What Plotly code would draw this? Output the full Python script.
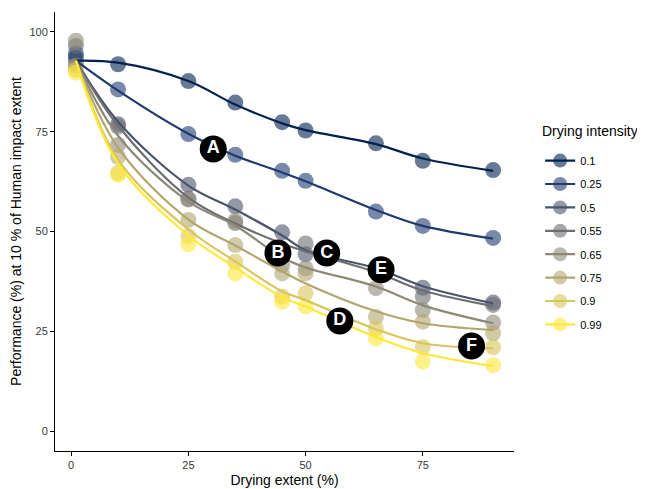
import plotly.graph_objects as go
import plotly.colors as pc

# ---- data ----
drying_extent = [1, 10, 25, 35, 45, 50, 65, 75, 90]
intensity_labels = ["0.1", "0.25", "0.5", "0.55", "0.65", "0.75", "0.9", "0.99"]

points_01 = [93.5, 91.9, 87.7, 82.3, 77.4, 75.3, 72.1, 67.7, 65.4]
points_025 = [94.6, 85.6, 74.4, 69.2, 65.2, 62.7, 55.0, 51.4, 48.4]
points_05 = [92.0, 76.9, 61.7, 56.3, 49.8, 44.3, 40.8, 35.9, 32.2]
points_055 = [96.5, 76.3, 58.2, 52.1, 45.5, 47.0, 40.0, 33.7, 31.6]
points_065 = [97.8, 71.7, 58.0, 52.7, 41.6, 40.8, 35.8, 30.3, 27.2]
points_075 = [91.5, 68.7, 52.9, 46.6, 39.5, 39.5, 28.6, 27.4, 24.5]
points_09 = [90.5, 64.7, 48.9, 42.4, 33.7, 34.5, 25.7, 21.0, 21.0]
points_099 = [89.8, 64.2, 46.8, 39.5, 32.4, 31.2, 23.2, 17.4, 16.5]

fit_01 = [92.8, 92.3, 87.7, 81.8, 77.1, 75.4, 71.9, 68.3, 65.2]
fit_025 = [92.8, 85.3, 74.5, 69.0, 64.8, 62.6, 55.4, 51.4, 48.2]
fit_05 = [92.8, 77.5, 61.5, 55.5, 49.0, 45.3, 40.8, 36.3, 32.0]
fit_055 = [92.8, 76.5, 58.5, 52.0, 47.0, 45.0, 39.8, 35.2, 31.3]
fit_065 = [92.8, 74.0, 57.5, 51.5, 43.5, 41.0, 36.2, 31.5, 27.0]
fit_075 = [92.8, 71.0, 53.0, 46.5, 40.0, 37.0, 30.0, 27.0, 25.3]
fit_09 = [92.8, 68.0, 50.5, 42.5, 35.0, 32.8, 25.5, 22.0, 20.7]
fit_099 = [92.8, 67.0, 49.0, 41.0, 33.5, 31.2, 23.5, 19.5, 16.3]

label_text = ["A", "B", "C", "D", "E", "F"]
label_x = [30.3, 44.1, 54.5, 57.3, 66.1, 85.4]
label_y = [70.7, 44.6, 44.6, 27.6, 40.4, 21.3]

x_ticks = [0, 25, 50, 75]
y_ticks = [0, 25, 50, 75, 100]

points_all = [points_01, points_025, points_05, points_055,
              points_065, points_075, points_09, points_099]
fits_all = [fit_01, fit_025, fit_05, fit_055, fit_065, fit_075, fit_09, fit_099]

colors = pc.sample_colorscale("cividis", [i / 7 for i in range(8)])


def with_alpha(c, a):
    c = c.strip()
    if c.startswith("rgb("):
        vals = c[4:-1]
    else:
        r, g, b = pc.hex_to_rgb(c)
        vals = f"{r},{g},{b}"
    return f"rgba({vals},{a})"


fig = go.Figure()
FONT = "Liberation Sans, Arial, sans-serif"

# points
for lab, pts, col in zip(intensity_labels, points_all, colors):
    fig.add_trace(go.Scatter(
        x=drying_extent, y=pts, mode="markers",
        marker=dict(size=16, color=with_alpha(col, 0.6), line=dict(width=0)),
        showlegend=False, hoverinfo="skip"))

# fitted lines
for lab, fit, col in zip(intensity_labels, fits_all, colors):
    fig.add_trace(go.Scatter(
        x=drying_extent, y=fit, mode="lines",
        line=dict(color=col, width=2.2, shape="spline", smoothing=1.0),
        showlegend=False, hoverinfo="skip"))

# legend entries
for lab, col in zip(intensity_labels, colors):
    fig.add_trace(go.Scatter(
        x=[None], y=[None], mode="lines+markers", name=lab,
        legendgroup=lab,
        marker=dict(size=14, color=with_alpha(col, 0.6)),
        line=dict(color=col, width=2.2)))

# labels A-F
fig.add_trace(go.Scatter(
    x=label_x, y=label_y, mode="markers+text", text=label_text,
    textposition="middle center",
    marker=dict(size=27, color="black"),
    textfont=dict(color="white", size=18, family="Liberation Sans, Arial, sans-serif", weight="bold"),
    showlegend=False, hoverinfo="skip"))

# page body adds an 8px offset; the figure is sized to fill the window exactly
fig.update_layout(
    width=637, height=481,
    margin=dict(l=47, r=131, t=4, b=38, autoexpand=False),
    plot_bgcolor="white", paper_bgcolor="white",
    font=dict(family=FONT, color="black"),
    showlegend=True,
    legend=dict(
        font=dict(size=11, color="black"),
        x=1.057, y=0.6945, xanchor="left", yanchor="top",
        tracegroupgap=4.4, itemwidth=30,
        bgcolor="rgba(0,0,0,0)"),
    annotations=[dict(
        text="Drying intensity", xref="paper", yref="paper",
        x=1.057, y=0.729, xanchor="left", yanchor="middle",
        showarrow=False, font=dict(size=14, color="black"))],
    xaxis=dict(
        range=[-3.45, 94.45], tickvals=x_ticks, automargin=False,
        showline=True, linecolor="black", linewidth=1,
        ticks="outside", ticklen=4, tickcolor="black",
        tickfont=dict(size=11, color="#3a3a3a"),
        showgrid=False, zeroline=False,
        title=dict(text="Drying extent (%)", font=dict(size=14), standoff=4)),
    yaxis=dict(
        range=[-5, 105], tickvals=y_ticks, automargin=False,
        showline=True, linecolor="black", linewidth=1,
        ticks="outside", ticklen=4, tickcolor="black",
        tickfont=dict(size=11, color="#3a3a3a"),
        showgrid=False, zeroline=False,
        title=dict(text="Performance (%) at 10 % of Human impact extent", font=dict(size=14), standoff=6)),
)

fig.write_html("out.html")
